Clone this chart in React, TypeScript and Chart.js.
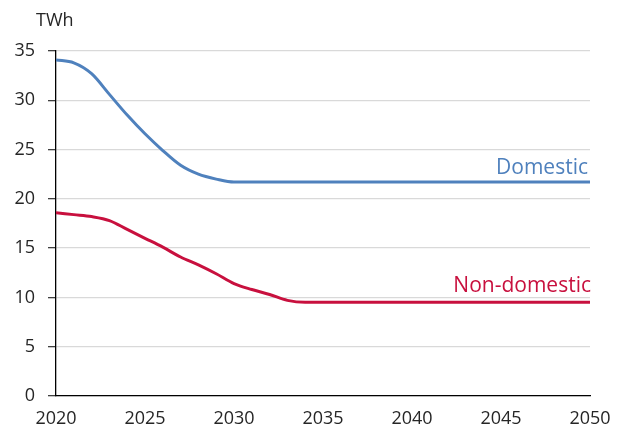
import React, { useEffect, useRef } from "react";
import { Chart, registerables } from "chart.js";

Chart.register(...registerables);

const years = [
  2020, 2021, 2022, 2023, 2024, 2025, 2026, 2027, 2028, 2029,
  2030, 2031, 2032, 2033, 2034, 2035, 2036, 2037, 2038, 2039,
  2040, 2041, 2042, 2043, 2044, 2045, 2046, 2047, 2048, 2049, 2050,
];

const domestic = [
  34.1, 33.8, 32.7, 30.6, 28.5, 26.6, 24.9, 23.4, 22.5, 22.0,
  21.7, 21.7, 21.7, 21.7, 21.7, 21.7, 21.7, 21.7, 21.7, 21.7,
  21.7, 21.7, 21.7, 21.7, 21.7, 21.7, 21.7, 21.7, 21.7, 21.7, 21.7,
];

const nonDomestic = [
  18.6, 18.4, 18.2, 17.8, 16.9, 16.0, 15.1, 14.1, 13.3, 12.4,
  11.4, 10.8, 10.3, 9.7, 9.5, 9.5, 9.5, 9.5, 9.5, 9.5,
  9.5, 9.5, 9.5, 9.5, 9.5, 9.5, 9.5, 9.5, 9.5, 9.5, 9.5,
];

const seriesNames = ["Domestic", "Non-domestic"];
const unitLabel = "TWh";
const xTicks = [2020, 2025, 2030, 2035, 2040, 2045, 2050];
const yTicks = [0, 5, 10, 15, 20, 25, 30, 35];

const BLUE = "#4F81BD";
const RED = "#C8103E";
const FONT = "'Open Sans', sans-serif";
const TEXT = "#262626";

export default function App() {
  const ref = useRef<HTMLCanvasElement | null>(null);

  useEffect(() => {
    document.body.style.margin = "0";
    const canvas = ref.current;
    if (!canvas) return;

    const labelPlugin = {
      id: "seriesLabels",
      afterDraw(chart: any) {
        const ctx = chart.ctx;
        const xs = chart.scales.x;
        const ys = chart.scales.y;
        ctx.save();
        ctx.font = `18px ${FONT}`;
        ctx.fillStyle = TEXT;
        ctx.textAlign = "left";
        ctx.textBaseline = "alphabetic";
        ctx.fillText(unitLabel, 36, 26);

        ctx.font = `21px ${FONT}`;
        ctx.textAlign = "right";
        const lastIdx = years.length - 1;
        const xr = xs.getPixelForValue(years[lastIdx]);
        ctx.fillStyle = BLUE;
        ctx.fillText(seriesNames[0], xr - 2, ys.getPixelForValue(domestic[lastIdx]) - 8);
        ctx.fillStyle = RED;
        ctx.fillText(seriesNames[1], xr + 1, ys.getPixelForValue(nonDomestic[lastIdx]) - 10);
        ctx.restore();
      },
    };

    const chart = new Chart(canvas, {
      type: "line",
      data: {
        datasets: [
          {
            label: seriesNames[0],
            data: years.map((y, i) => ({ x: y, y: domestic[i] })),
            borderColor: BLUE,
            borderWidth: 3,
            pointRadius: 0,
            cubicInterpolationMode: "monotone",
            fill: false,
          },
          {
            label: seriesNames[1],
            data: years.map((y, i) => ({ x: y, y: nonDomestic[i] })),
            borderColor: RED,
            borderWidth: 3,
            pointRadius: 0,
            cubicInterpolationMode: "monotone",
            fill: false,
          },
        ],
      },
      options: {
        animation: false,
        responsive: false,
        devicePixelRatio: 1,
        layout: { padding: { left: 0, top: 51, right: 27, bottom: 0 } },
        plugins: {
          legend: { display: false },
          tooltip: { enabled: false },
        },
        scales: {
          x: {
            type: "linear",
            min: xTicks[0],
            max: xTicks[xTicks.length - 1],
            afterBuildTicks: (s: any) => {
              s.ticks = xTicks.map((v) => ({ value: v }));
            },
            afterFit: (s: any) => {
              s.height = 29;
              s.paddingLeft = 0;
              s.paddingRight = 0;
            },
            ticks: {
              callback: (v: any) => String(v),
              font: { family: FONT, size: 18 },
              color: TEXT,
              padding: 12,
              maxRotation: 0,
              autoSkip: false,
            },
            grid: { color: "rgba(0,0,0,0)", drawTicks: false },
            border: { display: true, color: "#000", width: 1.3 },
          },
          y: {
            type: "linear",
            min: yTicks[0],
            max: yTicks[yTicks.length - 1],
            afterBuildTicks: (s: any) => {
              s.ticks = yTicks.map((v) => ({ value: v }));
            },
            afterFit: (s: any) => {
              s.width = 56;
              s.paddingTop = 0;
              s.paddingBottom = 0;
            },
            ticks: {
              font: { family: FONT, size: 18 },
              color: TEXT,
              padding: 13,
              autoSkip: false,
            },
            grid: {
              color: "#d9d9d9",
              lineWidth: 1.3,
              tickLength: 8,
              tickColor: "#404040",
            },
            border: { display: true, color: "#000", width: 1.3 },
          },
        },
      },
      plugins: [labelPlugin],
    });

    return () => chart.destroy();
  }, []);

  return (
    <div style={{ width: 617, height: 425, background: "#fff" }}>
      <canvas ref={ref} width={617} height={425} />
    </div>
  );
}
